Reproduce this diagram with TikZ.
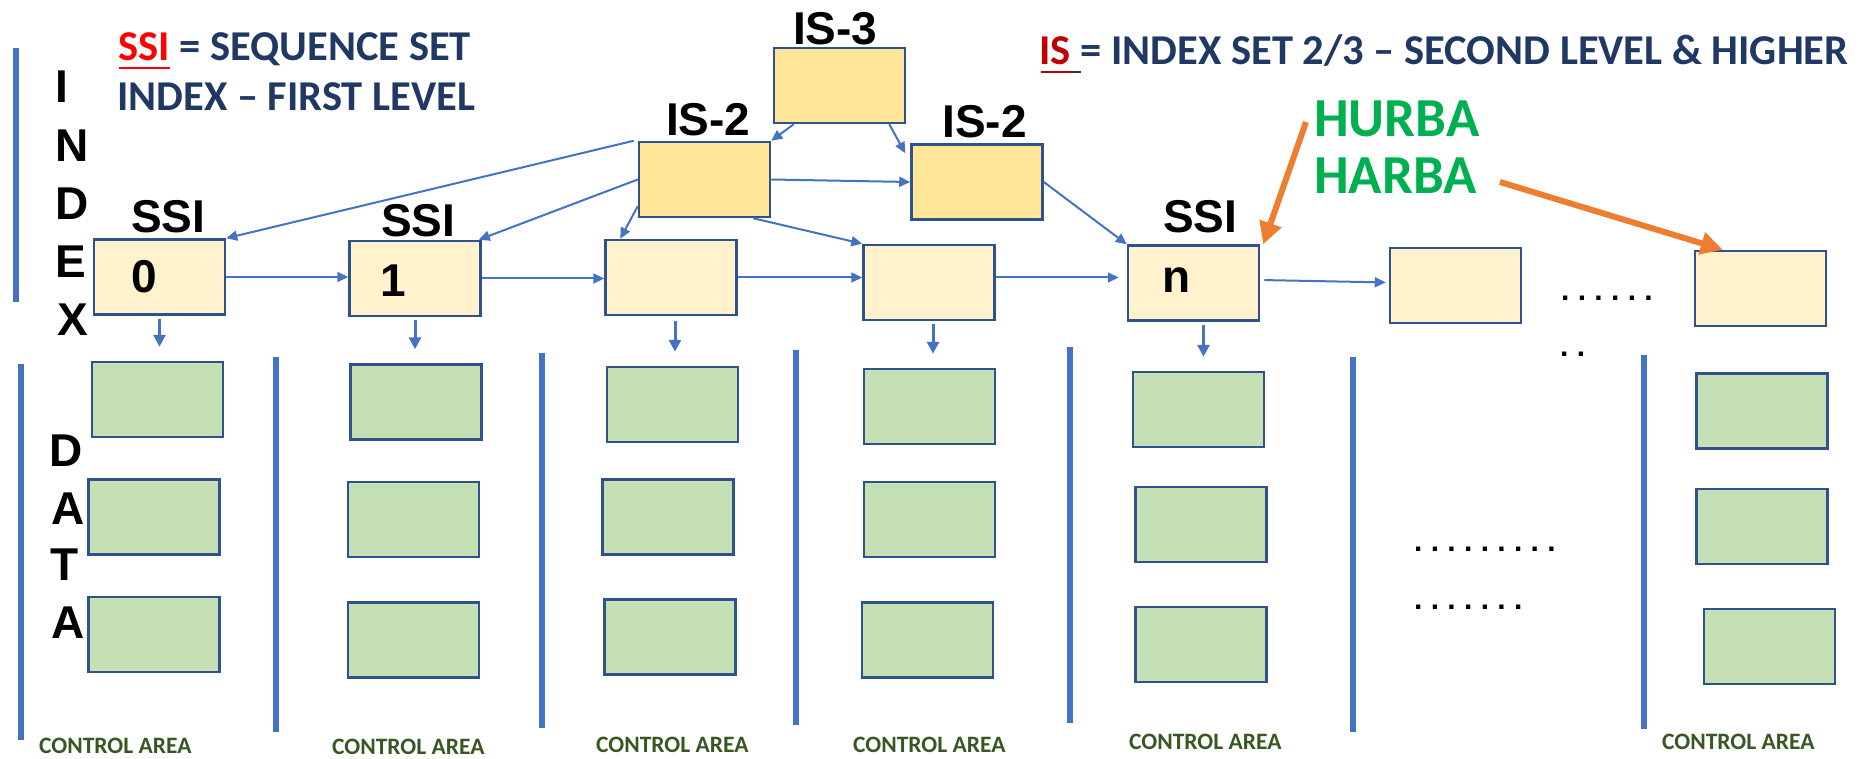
\documentclass[tikz,border=0pt]{standalone}
\usepackage{fontspec}
\usetikzlibrary{arrows.meta,calc}
\newfontfamily\lsans{Liberation Sans}
\newfontfamily\cali{Carlito}
\definecolor{cblue}{RGB}{68,114,196}
\definecolor{bord}{RGB}{47,82,143}
\definecolor{idxfill}{RGB}{255,242,204}
\definecolor{isfill}{RGB}{255,230,153}
\definecolor{datfill}{RGB}{197,224,180}
\definecolor{navy}{RGB}{31,56,100}
\definecolor{isred}{RGB}{192,0,0}
\definecolor{hgreen}{RGB}{0,176,80}
\definecolor{cgreen}{RGB}{56,87,35}
\definecolor{orng}{RGB}{237,125,49}
\newcommand\dd{.\kern8.3pt}
\tikzset{
  box/.style={draw=bord, line width=2.5pt, minimum width=131pt, minimum height=75pt, inner sep=0pt, anchor=center},
  idx/.style={box, fill=idxfill},
  isb/.style={box, fill=isfill},
  dat/.style={box, fill=datfill},
  conn/.style={draw=cblue, line width=2pt, -{Triangle[length=11pt,width=10pt]}},
  down/.style={draw=cblue, line width=3pt, -{Triangle[length=12pt,width=12pt]}},
  bar/.style={draw=cblue, line width=6pt},
  orarr/.style={draw=orng, line width=6pt, -{Triangle[length=22pt,width=22pt]}},
  lbl/.style={inner sep=0pt, anchor=base west, font=\lsans\bfseries\fontsize{46pt}{50pt}\selectfont},
  leg/.style={inner sep=0pt, anchor=base west, text=navy, font=\cali\bfseries\fontsize{42.5pt}{46pt}\selectfont},
  hb/.style={inner sep=0pt, anchor=base west, text=hgreen, font=\cali\bfseries\fontsize{55pt}{60pt}\selectfont},
  ctl/.style={inner sep=0pt, anchor=base west, text=cgreen, font=\cali\bfseries\fontsize{23.5pt}{26pt}\selectfont},
  dots/.style={inner sep=0pt, anchor=base west, font=\lsans\bfseries\fontsize{30pt}{32pt}\selectfont},
}
\begin{document}
\begin{tikzpicture}[x=1pt,y=-1pt]
\useasboundingbox (0,0) rectangle (1873,759);

% vertical bars
\draw[bar] (16,48) -- (16,302);
\draw[bar] (21,364) -- (21,740);
\draw[bar] (276,357) -- (276,732);
\draw[bar] (542,353) -- (542,728);
\draw[bar] (796,350) -- (796,725);
\draw[bar] (1070,347) -- (1070,723);
\draw[bar] (1353,357) -- (1353,732);
\draw[bar] (1644,355) -- (1644,729);

% INDEX / DATA letters
\node[lbl] (li1) at (55,103) {I};
\node[lbl] (li2) at (55,162) {N};
\node[lbl] (li3) at (55,220) {D};
\node[lbl] (li4) at (55,277) {E};
\node[lbl] (li5) at (57,335) {X};
\node[lbl] (ld1) at (49,466) {D};
\node[lbl] (ld2) at (51,524) {A};
\node[lbl] (ld3) at (50,580) {T};
\node[lbl] (ld4) at (51,638) {A};

% legends
\node[leg, text=red] (ssiL) at (118,61) {SSI};
\node[leg] (ssiR) at (ssiL.base east) {\ =\ SEQUENCE SET};
\draw[red, line width=2.5pt] ($(ssiL.base west)+(1,7)$) -- ($(ssiL.base east)+(0,7)$);
\node[leg] (ssi2) at (117,111) {INDEX – FIRST LEVEL};
\node[leg, text=isred] (isL) at (1039,65) {IS};
\node[leg] (isR) at (isL.base east) {\ =\ INDEX SET 2/3 – SECOND LEVEL \& HIGHER};
\draw[isred, line width=2.5pt] ($(isL.base west)+(2,7)$) -- ($(isL.base east)+(0,7)$);
\draw[navy, line width=2.5pt] ($(isL.base east)+(0,7)$) -- ($(isL.base east)+(10,7)$);

% index-level boxes
\node[idx] (i0) at (159.5,277) {};
\node[idx] (i1) at (415,278.5) {};
\node[idx] (i2) at (671,277.5) {};
\node[idx] (i3) at (929,282.5) {};
\node[idx] (in) at (1193.5,283) {};
\node[idx] (i5) at (1455.5,285.5) {};
\node[idx] (i6) at (1760.5,288.5) {};
\node[isb] (is3) at (839.5,85.5) {};
\node[isb] (is2a) at (704.5,179.5) {};
\node[isb] (is2b) at (977,182) {};

% box labels
\node[lbl] (t0) at (131,233) {SSI};
\node[lbl] (t1) at (381,237) {SSI};
\node[lbl] (tn) at (1163,233) {SSI};
\node[lbl] (n0) at (131,292) {0};
\node[lbl] (n1) at (380,296) {1};
\node[lbl] (nn) at (1162,292) {n};
\node[lbl] (tis3) at (793,45) {IS-3};
\node[lbl] (tis2a) at (666,136) {IS-2};
\node[lbl] (tis2b) at (942,138) {IS-2};

% data boxes
\node[dat] (g00) at (157.5,399.5) {};
\node[dat] (g01) at (154,517) {};
\node[dat] (g02) at (154,634.5) {};
\node[dat] (g10) at (416,402) {};
\node[dat] (g11) at (413.5,519.5) {};
\node[dat] (g12) at (413.5,640) {};
\node[dat] (g20) at (672.5,404.5) {};
\node[dat] (g21) at (668,517) {};
\node[dat] (g22) at (670,637) {};
\node[dat] (g30) at (929.5,406.5) {};
\node[dat] (g31) at (929.5,519.5) {};
\node[dat] (g32) at (927.5,640) {};
\node[dat] (g40) at (1198.5,409.5) {};
\node[dat] (g41) at (1201,524.5) {};
\node[dat] (g42) at (1201,644.5) {};
\node[dat] (g60) at (1762,411) {};
\node[dat] (g61) at (1762,526.5) {};
\node[dat] (g62) at (1769.5,646.5) {};

% horizontal arrows
\draw[conn] (i0.east) -- (i0.east -| i1.west);
\draw[conn] (i1.east) -- (i1.east -| i2.west);
\draw[conn] (i2.east) -- (i2.east -| i3.west);
\draw[conn, shorten >=8pt] ($(i3.east)+(0,-5)$) -- ($(i3.east -| in.west)+(0,-5)$);
\draw[conn, shorten <=4pt, shorten >=3pt] ($(in.east)+(0,-3)$) -- ($(i5.west)+(0,-3)$);

% IS arrows
\draw[conn] ($(is3.south west)+(21,0)$) -- (is2a.north east);
\draw[conn] ($(is3.south east)+(-17,0)$) -- ($(is2b.north west)+(-5,10)$);
\draw[conn] (is2a.east) -- (is2b.west);
\draw[conn] (is2b.east) -- (in.north west);
\draw[conn] ($(is2a.south east)+(-18,0)$) -- (i3.north west);
\draw[conn] ($(is2a.south west)+(0,-12)$) -- ($(i2.north west)+(16,0)$);
\draw[conn] (is2a.west) -- ($(i1.north east)+(-3,0)$);
\draw[conn] ($(is2a.north west)+(-4,0)$) -- (i0.north east);

% down arrows
\coordinate (a0) at ($(i0.south)+(0,3)$);
\coordinate (a1) at ($(i1.south)+(0,3)$);
\coordinate (a2) at ($(i2.south)+(4,5)$);
\coordinate (a3) at ($(i3.south)+(4,3)$);
\coordinate (a4) at ($(in.south)+(10,3)$);
\draw[down, shorten >=14pt] (a0) -- (a0 |- g00.north);
\draw[down, shorten >=14pt] (a1) -- (a1 |- g10.north);
\draw[down, shorten >=14pt] (a2) -- (a2 |- g20.north);
\draw[down, shorten >=14pt] (a3) -- (a3 |- g30.north);
\draw[down, shorten >=14pt] (a4) -- (a4 |- g40.north);

% HURBA HARBA
\node[hb] (hurba) at (1314,137) {HURBA};
\node[hb] (harba) at (1314,194) {HARBA};
\coordinate (o1) at (1306,122);
\coordinate (o2) at (1500,182);
\draw[orarr] (o1) -- ($(in.north east)+(3,0)$);
\draw[orarr] (o2) -- ($(i6.north west)+(29,0)$);

% dots
\node[dots] (d1) at (1561,300) {\dd\dd\dd\dd\dd\dd};
\node[dots] (d2) at (1560,356) {\dd\dd};
\node[dots] (d3) at (1414,551) {\dd\dd\dd\dd\dd\dd\dd\dd\dd};
\node[dots] (d4) at (1414,609) {\dd\dd\dd\dd\dd\dd\dd};

% control area labels
\node[ctl] (c0) at (39,753) {CONTROL AREA};
\node[ctl] (c1) at (332,754) {CONTROL AREA};
\node[ctl] (c2) at (596,752) {CONTROL AREA};
\node[ctl] (c3) at (853,752) {CONTROL AREA};
\node[ctl] (c4) at (1129,749) {CONTROL AREA};
\node[ctl] (c6) at (1662,749) {CONTROL AREA};
\end{tikzpicture}
\end{document}
